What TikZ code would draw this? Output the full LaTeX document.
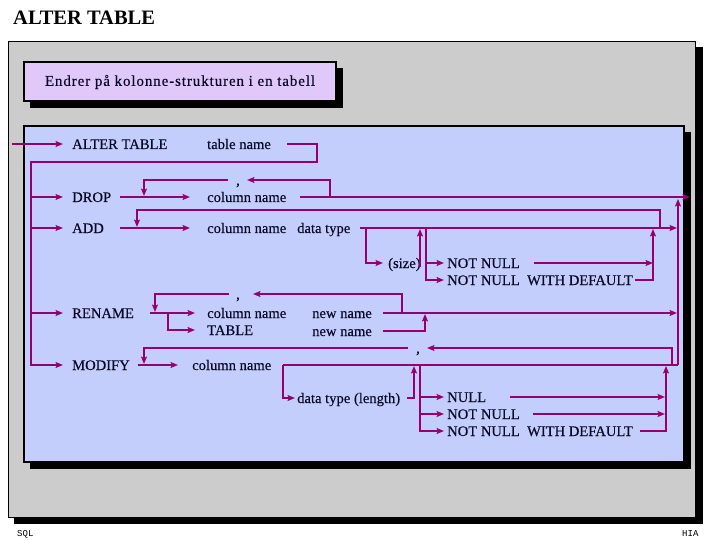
\documentclass[tikz,border=0pt]{standalone}
\usepackage{fontspec}
\setmainfont{Liberation Serif}
\setmonofont{Liberation Mono}
\usetikzlibrary{arrows.meta}
\definecolor{rl}{RGB}{150,0,110}
\definecolor{panel}{RGB}{204,204,204}
\definecolor{tbox}{RGB}{225,200,250}
\definecolor{bbox}{RGB}{196,206,252}
\definecolor{txt}{RGB}{10,10,40}
\begin{document}
\begin{tikzpicture}[x=1pt,y=-1pt,
  rail/.style={draw=rl,line width=1.9pt},
  arr/.style={rail,-{Stealth[length=7.5pt,width=6pt,inset=1.5pt]}},
  lbl/.style={anchor=base west,inner sep=0pt,text=txt,font=\fontsize{14.6}{14.6}\selectfont\addfontfeatures{FakeBold=0.4}},
  foot/.style={anchor=base west,inner sep=0pt,font=\ttfamily\fontsize{9}{9}\selectfont}]
\useasboundingbox (0,0) rectangle (720,540);
\fill[white] (0,0) rectangle (720,540);
\node[anchor=base west,inner sep=0pt,font=\fontsize{20.5}{20.5}\selectfont\bfseries] (title) at (13,25) {ALTER TABLE};
% panels
\fill[black] (14,47) rectangle (703,524);
\draw[black,line width=0.8pt,fill=panel] (8,41) rectangle (695,517);
\fill[black] (30,68) rectangle (343,108);
\draw[black,line width=2pt,fill=tbox] (24,62) rectangle (336,101);
\node[inner sep=0pt,text=txt,font=\fontsize{15}{15}\selectfont\addfontfeatures{LetterSpace=6,FakeBold=0.4}] (sub) at (180,82) {Endrer på kolonne-strukturen i en tabell};
\fill[black] (30,132) rectangle (691,469);
\draw[black,line width=2pt,fill=bbox] (24,126) rectangle (684,462);
\node[foot] (sql) at (17,536) {SQL};
\node[foot] (hia) at (682,536) {HIA};
% labels
\node[lbl] (alt) at (72,149) {ALTER TABLE};
\node[lbl] (tn) at (207,149) {table name};
\node[lbl] (drop) at (72,202) {DROP};
\node[lbl] (dcn) at (207,202) {column name};
\node[lbl] (dcm) at (236,185) {,};
\node[lbl] (add) at (72,233) {ADD};
\node[lbl] (acn) at (207,233) {column name};
\node[lbl] (adt) at (297,233) {data type};
\node[lbl] (size) at (388,268) {(size)};
\node[lbl] (ann) at (447,268) {NOT NULL};
\node[lbl] (annw) at (447,285) {NOT NULL\ \ WITH DEFAULT};
\node[lbl] (ren) at (72,318) {RENAME};
\node[lbl] (rcm) at (236,299) {,};
\node[lbl] (rcn) at (207,318) {column name};
\node[lbl] (rnn1) at (312,318) {new name};
\node[lbl] (rtab) at (207,335) {TABLE};
\node[lbl] (rnn2) at (312,336) {new name};
\node[lbl] (mod) at (72,370) {MODIFY};
\node[lbl] (mcm) at (416,353) {,};
\node[lbl] (mcn) at (192,370) {column name};
\node[lbl] (mdt) at (297,403) {data type (length)};
\node[lbl] (mnul) at (447,402) {NULL};
\node[lbl] (mnn) at (447,419) {NOT NULL};
\node[lbl] (mnnw) at (447,436) {NOT NULL\ \ WITH DEFAULT};
% coordinates
\foreach \n/\x/\y in {
  in/12/144, inE/63/144,
  tnE/287/144, sp1/317/144, sp2/317/162, sp3/31/162, sp4/31/365, modA/63/365,
  b1/31/197, dropA/63/197, b2/31/228, addA/63/228, b3/31/313, renA/63/313,
  d1/120/197, d2/190/197, dm1/300/197, dm2/690/197,
  dl1/330/197, dl2/330/180, dl3/247/180, dl4/228/180, dl5/144/180, dl6/144/196,
  a1/120/228, a2/190/228, am1/360/228, am2/677/228,
  al1/660/228, al2/660/210, al3/137/210, al4/137/227,
  s1/366/228, s2/366/263, s3/383/263, sz1/420/267, sz2/420/229,
  n0/426/228, n1/426/280, n2/444/280, n3/426/263, n4/444/263,
  nn1/534/263, nn2/653/263, nw1/635/280, nw2/653/280, nw3/653/229,
  c1/678/365, c2/678/199,
  r1/150/313, r2/195/313, r3/168/313, r4/168/330, r5/195/330,
  rl1/402/313, rl2/402/294, rl3/253/294, rl4/229/294, rl5/155/294, rl6/155/312,
  rm1/383/313, rm2/677/313, rn1/383/331, rn2/425/331, rn3/425/314,
  m1/138/365, m2/178/365,
  ml1/672/365, ml2/672/348, ml3/427/348, ml4/408/348, ml5/144/348, ml6/144/364,
  mm1/283/365, mm2/678/365, dt1/283/398, dt2/295/398,
  de1/407/398, de2/414/398, de3/414/366,
  o0/420/365, o1/420/431, o2/444/431, o3/420/397, o4/444/397, o5/420/414, o6/444/414,
  u1/510/397, u2/665/397, v1/533/414, v2/665/414, w1/640/431, w2/666/431, w3/666/366}
  {\coordinate (\n) at (\x,\y);}
% spine
\draw[arr] (in) -- (inE);
\draw[arr] (tnE) -- (sp1) -- (sp2) -- (sp3) -- (sp4) -- (modA);
\draw[arr] (b1) -- (dropA);
\draw[arr] (b2) -- (addA);
\draw[arr] (b3) -- (renA);
% DROP
\draw[arr] (d1) -- (d2);
\draw[arr] (dm1) -- (dm2);
\draw[arr] (dl1) -- (dl2) -- (dl3);
\draw[arr] (dl4) -- (dl5) -- (dl6);
% ADD
\draw[arr] (a1) -- (a2);
\draw[arr] (am1) -- (am2);
\draw[arr] (al1) -- (al2) -- (al3) -- (al4);
\draw[arr] (s1) -- (s2) -- (s3);
\draw[arr] (sz1) -- (sz2);
\draw[arr] (n0) -- (n1) -- (n2);
\draw[arr] (n3) -- (n4);
\draw[arr] (nn1) -- (nn2);
\draw[arr] (nw1) -- (nw2) -- (nw3);
\draw[arr] (c1) -- (c2);
% RENAME
\draw[arr] (r1) -- (r2);
\draw[arr] (r3) -- (r4) -- (r5);
\draw[arr] (rl1) -- (rl2) -- (rl3);
\draw[arr] (rl4) -- (rl5) -- (rl6);
\draw[arr] (rm1) -- (rm2);
\draw[arr] (rn1) -- (rn2) -- (rn3);
% MODIFY
\draw[arr] (m1) -- (m2);
\draw[arr] (ml1) -- (ml2) -- (ml3);
\draw[arr] (ml4) -- (ml5) -- (ml6);
\draw[rail] (mm1) -- (mm2);
\draw[arr] (mm1) -- (dt1) -- (dt2);
\draw[arr] (de1) -- (de2) -- (de3);
\draw[arr] (o0) -- (o1) -- (o2);
\draw[arr] (o3) -- (o4);
\draw[arr] (o5) -- (o6);
\draw[arr] (u1) -- (u2);
\draw[arr] (v1) -- (v2);
\draw[arr] (w1) -- (w2) -- (w3);
\end{tikzpicture}
\end{document}
